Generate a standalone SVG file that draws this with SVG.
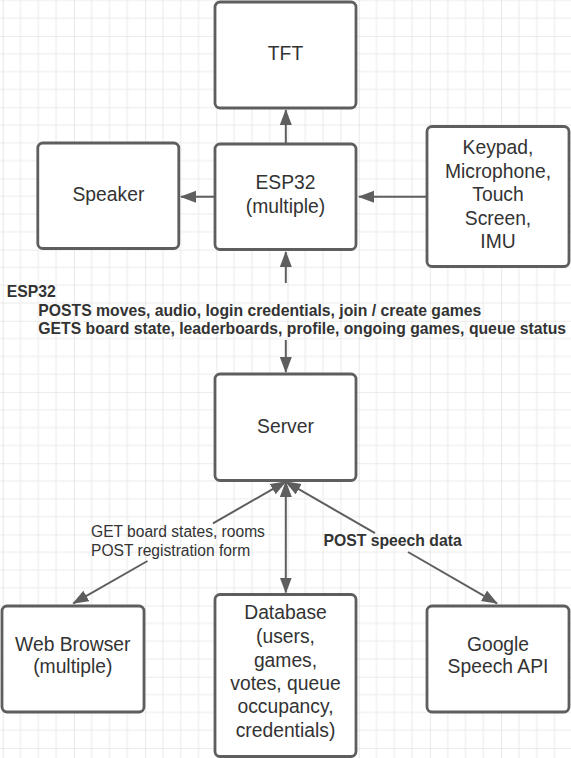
<svg xmlns="http://www.w3.org/2000/svg" width="571" height="758" viewBox="0 0 571 758">
<defs>
<pattern id="grid" patternUnits="userSpaceOnUse" x="2.7" y="36" width="71.2" height="71.2">
<rect width="71.2" height="71.2" fill="#ffffff"/>
<path d="M17.8 0V71.2M35.6 0V71.2M53.4 0V71.2M0 17.8H71.2M0 35.6H71.2M0 53.4H71.2" stroke="#ebebeb" stroke-width="1" fill="none"/>
<path d="M0 0V71.2M0 0H71.2" stroke="#dadada" stroke-width="1.2" fill="none"/>
</pattern>
<marker id="arr" markerUnits="userSpaceOnUse" markerWidth="18" markerHeight="14" refX="15" refY="6" orient="auto">
<path d="M0 0L16 6L0 12Z" fill="#5e5e5e"/>
</marker>
<style>
.box{fill:#ffffff;stroke:#5e5e5e;stroke-width:2.8}
.nt{font-family:"Liberation Sans",Arial,sans-serif;font-size:19.3px;fill:#333333;text-anchor:middle}
.lb{font-family:"Liberation Sans",Arial,sans-serif;font-size:15.6px;fill:#333333}
.b{font-weight:bold;font-size:15.75px}
.cn{stroke:#5e5e5e;stroke-width:2;fill:none}
</style>
</defs>
<rect width="571" height="758" fill="url(#grid)"/>

<g id="connectors">
<path class="cn" d="M285.8 143V110" marker-end="url(#arr)"/>
<path class="cn" d="M214 196.7H181" marker-end="url(#arr)"/>
<path class="cn" d="M426 196.7H359" marker-end="url(#arr)"/>
<path class="cn" d="M285.8 283V252" marker-end="url(#arr)"/>
<path class="cn" d="M285.8 340V372" marker-end="url(#arr)"/>
<path class="cn" d="M213 523.3L285.7 481.7" marker-end="url(#arr)"/>
<path class="cn" d="M147.5 561L73.3 603.3" marker-end="url(#arr)"/>
<path class="cn" d="M285.8 540V482" marker-end="url(#arr)"/>
<path class="cn" d="M285.8 540V592.5" marker-end="url(#arr)"/>
<path class="cn" d="M375 533.1L285.7 481.7" marker-end="url(#arr)"/>
<path class="cn" d="M408 552L497 603.3" marker-end="url(#arr)"/>
</g>

<g id="label-esp32">
<text class="lb b" x="6.7" y="296.7">ESP32</text>
<text class="lb b" x="38.3" y="315.6">POSTS moves, audio, login credentials, join / create games</text>
<text class="lb b" x="38.3" y="334.3">GETS board state, leaderboards, profile, ongoing games, queue status</text>
</g>
<g id="label-web">
<text class="lb" x="91" y="537.2">GET board states, rooms</text>
<text class="lb" x="91" y="556">POST registration form</text>
</g>
<g id="label-speech">
<text class="lb b" x="323.4" y="546">POST speech data</text>
</g>

<g id="tft">
<rect class="box" x="215" y="2" width="141" height="106" rx="5"/>
<text class="nt" x="285.5" y="60">TFT</text>
</g>
<g id="esp32">
<rect class="box" x="215" y="144" width="141" height="105.5" rx="5"/>
<text class="nt" x="285.5" y="189.3">ESP32</text>
<text class="nt" x="285.5" y="212.5">(multiple)</text>
</g>
<g id="speaker">
<rect class="box" x="37.8" y="143" width="141" height="105.5" rx="5"/>
<text class="nt" x="108.4" y="201">Speaker</text>
</g>
<g id="inputs">
<rect class="box" x="427" y="126.5" width="142" height="140" rx="5"/>
<text class="nt" x="498" y="154">Keypad,</text>
<text class="nt" x="498" y="177.6">Microphone,</text>
<text class="nt" x="498" y="201.2">Touch</text>
<text class="nt" x="498" y="224.8">Screen,</text>
<text class="nt" x="498" y="248.4">IMU</text>
</g>
<g id="server">
<rect class="box" x="215" y="374" width="141" height="106.5" rx="5"/>
<text class="nt" x="285.5" y="432.7">Server</text>
</g>
<g id="web-browser">
<rect class="box" x="2" y="606" width="142" height="106" rx="5"/>
<text class="nt" x="72.8" y="650.7">Web Browser</text>
<text class="nt" x="72.8" y="672.7">(multiple)</text>
</g>
<g id="database">
<rect class="box" x="215" y="594.5" width="141" height="162" rx="5"/>
<text class="nt" x="285.5" y="619.3">Database</text>
<text class="nt" x="285.5" y="643">(users,</text>
<text class="nt" x="285.5" y="666.5">games,</text>
<text class="nt" x="285.5" y="690">votes, queue</text>
<text class="nt" x="285.5" y="713.4">occupancy,</text>
<text class="nt" x="285.5" y="736.8">credentials)</text>
</g>
<g id="google-speech">
<rect class="box" x="427" y="606" width="142" height="106" rx="5"/>
<text class="nt" x="498" y="650.7">Google</text>
<text class="nt" x="498" y="672.7">Speech API</text>
</g>
</svg>
